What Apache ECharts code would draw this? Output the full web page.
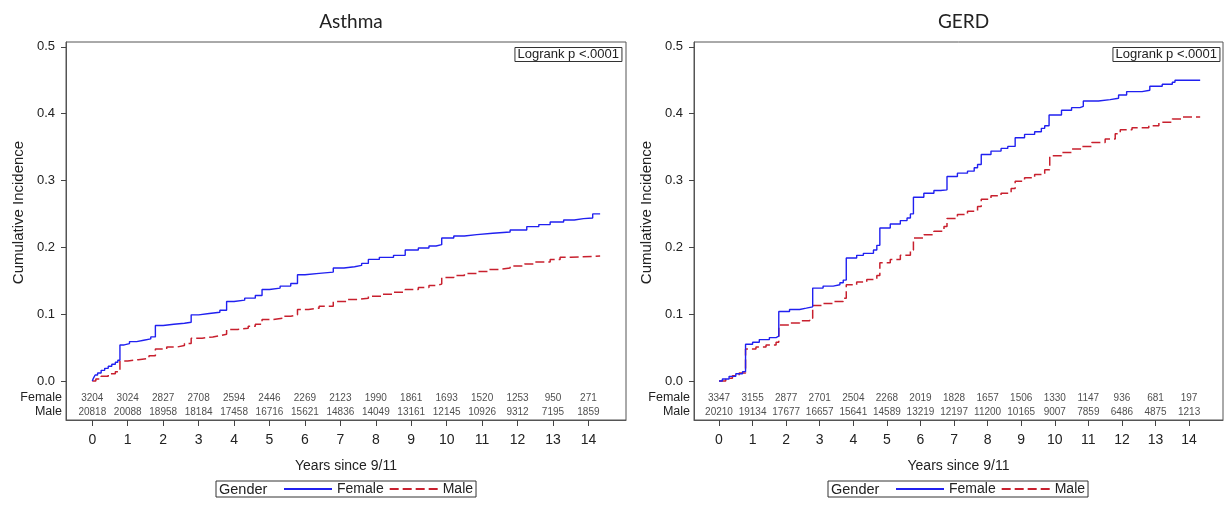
<!DOCTYPE html>
<html><head><meta charset="utf-8">
<script src="https://cdn.jsdelivr.net/npm/echarts@6/dist/echarts.min.js"></script>
<style>html,body{margin:0;padding:0;background:#fff}#c{width:1224px;height:506px}</style>
</head><body><div id="c"></div>
<script>
// ---------- data ----------
const years = [0,1,2,3,4,5,6,7,8,9,10,11,12,13,14];
const yTicks = [0,0.1,0.2,0.3,0.4,0.5];

const asthmaFemale = [[0,0],[0.03,0.004],[0.08,0.009],[0.15,0.012],[0.25,0.016],[0.35,0.019],[0.45,0.022],[0.55,0.025],[0.65,0.028],[0.72,0.031],[0.78,0.054],[0.9,0.056],[1.05,0.059],[1.25,0.061],[1.45,0.063],[1.65,0.066],[1.78,0.083],[2.0,0.085],[2.3,0.0865],[2.6,0.088],[2.79,0.099],[3.0,0.101],[3.3,0.103],[3.6,0.106],[3.79,0.119],[4.0,0.121],[4.3,0.124],[4.6,0.128],[4.79,0.137],[5.0,0.139],[5.3,0.142],[5.6,0.146],[5.79,0.159],[6.0,0.161],[6.4,0.163],[6.8,0.169],[7.1,0.171],[7.4,0.173],[7.6,0.176],[7.79,0.182],[8.1,0.185],[8.5,0.188],[8.83,0.196],[9.2,0.199],[9.5,0.202],[9.7,0.204],[9.86,0.214],[10.2,0.217],[10.5,0.219],[10.85,0.221],[11.3,0.223],[11.79,0.226],[12.26,0.231],[12.6,0.234],[12.92,0.238],[13.3,0.241],[13.6,0.243],[13.86,0.244],[14.12,0.25],[14.33,0.25]];
const asthmaMale = [[0,0],[0.1,0.003],[0.25,0.007],[0.45,0.011],[0.65,0.014],[0.78,0.03],[1.0,0.032],[1.3,0.034],[1.6,0.038],[1.78,0.048],[2.1,0.051],[2.4,0.053],[2.6,0.056],[2.79,0.064],[3.1,0.066],[3.4,0.068],[3.6,0.07],[3.79,0.077],[4.1,0.079],[4.4,0.082],[4.6,0.085],[4.79,0.092],[5.1,0.094],[5.4,0.097],[5.6,0.099],[5.79,0.107],[6.1,0.109],[6.4,0.112],[6.8,0.119],[7.2,0.122],[7.5,0.124],[7.79,0.127],[8.2,0.13],[8.5,0.133],[8.83,0.137],[9.2,0.14],[9.5,0.143],[9.7,0.145],[9.86,0.155],[10.2,0.158],[10.5,0.161],[10.85,0.164],[11.2,0.167],[11.5,0.169],[11.79,0.172],[12.2,0.175],[12.5,0.178],[12.92,0.182],[13.2,0.185],[13.5,0.187],[14.33,0.187]];
const gerdFemale = [[0,0],[0.1,0.003],[0.3,0.007],[0.5,0.011],[0.7,0.014],[0.79,0.055],[1.0,0.058],[1.2,0.062],[1.5,0.065],[1.7,0.067],[1.78,0.104],[2.1,0.107],[2.4,0.109],[2.6,0.111],[2.79,0.139],[3.1,0.142],[3.4,0.144],[3.6,0.147],[3.7,0.151],[3.79,0.184],[4.1,0.188],[4.3,0.191],[4.6,0.196],[4.7,0.203],[4.79,0.229],[5.1,0.235],[5.4,0.24],[5.6,0.244],[5.7,0.25],[5.79,0.275],[6.1,0.281],[6.4,0.285],[6.6,0.286],[6.79,0.306],[7.1,0.311],[7.4,0.314],[7.6,0.319],[7.7,0.324],[7.81,0.339],[8.1,0.344],[8.4,0.348],[8.6,0.351],[8.82,0.364],[9.1,0.369],[9.4,0.373],[9.6,0.378],[9.7,0.382],[9.83,0.398],[10.2,0.405],[10.5,0.409],[10.75,0.411],[10.85,0.419],[11.3,0.421],[11.65,0.423],[11.9,0.428],[12.14,0.433],[12.6,0.435],[12.83,0.441],[13.2,0.444],[13.5,0.447],[13.58,0.45],[14.33,0.45]];
const gerdMale = [[0,0],[0.2,0.004],[0.4,0.008],[0.6,0.012],[0.79,0.048],[1.1,0.051],[1.4,0.054],[1.7,0.058],[1.78,0.084],[2.1,0.087],[2.4,0.09],[2.7,0.094],[2.79,0.113],[3.1,0.116],[3.4,0.119],[3.7,0.124],[3.79,0.144],[4.1,0.148],[4.4,0.152],[4.7,0.158],[4.79,0.177],[5.1,0.182],[5.4,0.188],[5.7,0.196],[5.79,0.214],[6.1,0.219],[6.4,0.224],[6.7,0.231],[6.79,0.243],[7.1,0.249],[7.4,0.254],[7.7,0.261],[7.81,0.272],[8.1,0.277],[8.4,0.281],[8.7,0.288],[8.82,0.299],[9.1,0.304],[9.4,0.309],[9.7,0.316],[9.85,0.337],[10.2,0.342],[10.5,0.347],[10.8,0.351],[11.1,0.357],[11.5,0.362],[11.8,0.37],[11.95,0.376],[12.3,0.379],[12.8,0.382],[13.1,0.387],[13.5,0.392],[13.8,0.395],[14.33,0.395]];

const asthmaRiskFemale = [3204,3024,2827,2708,2594,2446,2269,2123,1990,1861,1693,1520,1253,950,271];
const asthmaRiskMale = [20818,20088,18958,18184,17458,16716,15621,14836,14049,13161,12145,10926,9312,7195,1859];
const gerdRiskFemale = [3347,3155,2877,2701,2504,2268,2019,1828,1657,1506,1330,1147,936,681,197];
const gerdRiskMale = [20210,19134,17677,16657,15641,14589,13219,12197,11200,10165,9007,7859,6486,4875,1213];

// ---------- layout / style ----------
const FONT = '"Liberation Sans", Arial, sans-serif';
const BLUE = '#2020f0', RED = '#c8202e', INK = '#222';
const ROW_F = -0.0254, ROW_M = -0.0464;
const Y_MIN = -0.0583, Y_MAX = 0.5072;
const panels = [
  {name:'Asthma', left:66, right:1224-626, xMin:-0.742, xMax:15.06, fem:asthmaFemale, male:asthmaMale, rf:asthmaRiskFemale, rm:asthmaRiskMale, lrRight:602},
  {name:'GERD', left:694, right:1, xMin:-0.745, xMax:15.01, fem:gerdFemale, male:gerdMale, rf:gerdRiskFemale, rm:gerdRiskMale, lrRight:4}
];
const TOP = 42, BOTTOM = 506-420;

const option = {animation:false, backgroundColor:'#fff', title:[], grid:[], xAxis:[], yAxis:[], series:[], legend:[], graphic:[]};
panels.forEach((p, i) => {
  const cx = p.left + (1224 - p.right - p.left)/2;
  option.title.push({text:p.name, left:cx, top:7, textAlign:'center',
    textStyle:{fontFamily:'Lato, "Open Sans", sans-serif', fontSize:19, fontWeight:'normal', color:INK}});
  option.title.push({text:'Logrank p <.0001', right:p.lrRight, top:47, padding:[1,3,1,3], borderColor:'#333', borderWidth:1,
    textStyle:{fontFamily:FONT, fontSize:13, fontWeight:'normal', color:INK}});
  option.grid.push({left:p.left, right:p.right, top:TOP, bottom:BOTTOM, show:true, borderColor:'#555', borderWidth:1});
  option.xAxis.push({type:'value', gridIndex:i, min:p.xMin, max:p.xMax,
    name:'Years since 9/11', nameLocation:'middle', nameGap:39, nameMoveOverlap:false,
    nameTextStyle:{fontFamily:FONT, fontSize:14, color:INK},
    axisLine:{show:true, onZero:false, lineStyle:{color:'#555'}},
    axisTick:{show:true, length:6, customValues:years, lineStyle:{color:'#444'}},
    axisLabel:{customValues:years, margin:13, fontFamily:FONT, fontSize:14, color:INK},
    splitLine:{show:false}});
  option.yAxis.push({type:'value', gridIndex:i, min:Y_MIN, max:Y_MAX,
    name:'Cumulative Incidence', nameLocation:'middle', nameGap:40, nameMoveOverlap:false,
    nameTextStyle:{fontFamily:FONT, fontSize:15, color:INK, padding:[0,0,0,37]},
    axisLine:{show:true, onZero:false, lineStyle:{color:'#555'}},
    axisTick:{show:true, length:5, customValues:yTicks, lineStyle:{color:'#444'}},
    axisLabel:{customValues:[ROW_M, ROW_F].concat(yTicks), margin:4, color:INK, fontFamily:FONT,
      formatter:(v) => Math.abs(v-ROW_F)<1e-6 ? '{r|Female}' : (Math.abs(v-ROW_M)<1e-6 ? '{r|Male}' : '{n|'+v.toFixed(1)+'}'),
      rich:{n:{fontFamily:FONT, fontSize:13, color:INK, padding:[0,7,0,0]}, r:{fontFamily:FONT, fontSize:12.5, color:INK}}},
    splitLine:{show:false}});
  option.series.push({type:'line', name:'Female', xAxisIndex:i, yAxisIndex:i, step:'end', symbol:'none',
    data:p.fem, lineStyle:{color:BLUE, width:1.4}, itemStyle:{color:BLUE}, z:3});
  option.series.push({type:'line', name:'Male', xAxisIndex:i, yAxisIndex:i, step:'end', symbol:'none',
    data:p.male, lineStyle:{color:RED, width:1.5, type:[9,4]}, itemStyle:{color:RED}, z:2});
  const riskData = years.map((y, k) => [y, ROW_F, p.rf[k]]).concat(years.map((y, k) => [y, ROW_M, p.rm[k]]));
  option.series.push({type:'scatter', name:'risk'+i, xAxisIndex:i, yAxisIndex:i, symbolSize:0, silent:true,
    data:riskData, label:{show:true, position:'inside', formatter:(q) => String(q.data[2]),
      fontFamily:FONT, fontSize:10, color:INK}});
  const legLeft = Math.round(cx - 130.5);
  option.legend.push({left:legLeft, top:481, orient:'horizontal', data:['Female','Male'], selectedMode:false,
    padding:[1,3,1,67], itemWidth:48, itemHeight:14, itemGap:5, borderColor:'#333', borderWidth:1,
    itemStyle:{opacity:0, borderWidth:0},
    textStyle:{fontFamily:FONT, fontSize:14, color:INK}});
  option.graphic.push({type:'text', left:legLeft+3, top:482,
    style:{text:'Gender', font:'14.5px ' + FONT, fill:INK}});
});

const chart = echarts.init(document.getElementById('c'), null, {renderer:'canvas'});
chart.setOption(option);
</script></body></html>
